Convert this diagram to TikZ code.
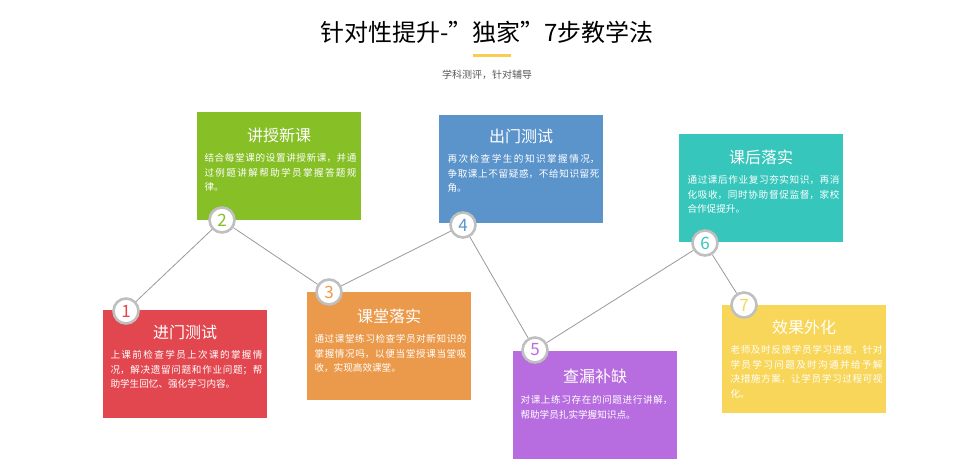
\documentclass[tikz,border=0pt]{standalone}
\usepackage{fontspec}
\setmainfont{Noto Sans CJK SC}
\XeTeXlinebreaklocale "zh"
\XeTeXlinebreakskip=0pt plus 1pt
\begin{document}
\begin{tikzpicture}[x=1pt,y=-1pt,
  box/.style={draw=none,anchor=north west,minimum width=164pt,minimum height=108pt},
  ttl/.style={text=white,font=\fontsize{16}{18}\selectfont},
  body/.style={text=white,anchor=north west,text width=152pt,align=justify,font=\fontsize{9.6}{14.5}\selectfont},
  num/.style={circle,fill=white,draw=black!25,line width=2.6pt,minimum size=25pt,inner sep=0pt,font=\fontsize{17}{17}\selectfont},
  link/.style={draw=black!40,line width=0.8pt}]
\useasboundingbox (0,0) rectangle (974,461);
\definecolor{cr}{HTML}{E2474F}\definecolor{cg}{HTML}{86BF26}\definecolor{co}{HTML}{EB9A4C}
\definecolor{cb}{HTML}{5B94CB}\definecolor{cp}{HTML}{B76DDF}\definecolor{ct}{HTML}{37C6BC}
\definecolor{cy}{HTML}{F8D659}
\node (title) at (487,32) {\fontsize{24}{26}\selectfont 针对性提升-"独家"7步教学法};
\fill[cy!90!orange] (473,54) rectangle (511,57);
\node[text=black!65] (sub) at (487,75) {\fontsize{10}{12}\selectfont 学科测评，针对辅导};
% boxes
\node[box,fill=cr] (b1) at (103,310) {};
\node[box,fill=cg] (b2) at (197,112) {};
\node[box,fill=co] (b3) at (307,292) {};
\node[box,fill=cb] (b4) at (439,115) {};
\node[box,fill=cp] (b5) at (513,351) {};
\node[box,fill=ct] (b6) at (679,134) {};
\node[box,fill=cy] (b7) at (722,305) {};
% titles
\node[ttl] (t1) at (185,332) {进门测试};
\node[ttl] (t2) at (279,135) {讲授新课};
\node[ttl] (t3) at (389,316) {课堂落实};
\node[ttl] (t4) at (521,136) {出门测试};
\node[ttl] (t5) at (595,376) {查漏补缺};
\node[ttl] (t6) at (761,157) {课后落实};
\node[ttl] (t7) at (804,327) {效果外化};
% bodies
\node[body] (d1) at (107,347) {上课前检查学员上次课的掌握情况，解决遗留问题和作业问题；帮助学生回忆、强化学习内容。};
\node[body] (d2) at (201,150) {结合每堂课的设置讲授新课，并通过例题讲解帮助学员掌握答题规律。};
\node[body] (d3) at (311,331) {通过课堂练习检查学员对新知识的掌握情况吗，以便当堂授课当堂吸收，实现高效课堂。};
\node[body] (d4) at (444,151) {再次检查学生的知识掌握情况，争取课上不留疑惑，不给知识留死角。};
\node[body] (d5) at (517,392) {对课上练习存在的问题进行讲解，帮助学员扎实学握知识点。};
\node[body] (d6) at (684,172) {通过课后作业复习夯实知识，再消化吸收，同时协助督促监督，家校合作促提升。};
\node[body] (d7) at (727,342) {老师及时反馈学员学习进度，针对学员学习问题及时沟通并给予解决措施方案，让学员学习过程可视化。};
% circles
\node[num,text=cr] (n1) at (126,311) {1};
\node[num,text=cg] (n2) at (222,220) {2};
\node[num,text=co] (n3) at (329,292) {3};
\node[num,text=cb] (n4) at (463,225) {4};
\node[num,text=cp] (n5) at (535,350) {5};
\node[num,text=ct] (n6) at (705,243) {6};
\node[num,text=cy] (n7) at (744,305) {7};
\draw[link] (n1)--(n2); \draw[link] (n2)--(n3); \draw[link] (n3)--(n4);
\draw[link] (n4)--(n5); \draw[link] (n5)--(n6); \draw[link] (n6)--(n7);
\end{tikzpicture}
\end{document}
